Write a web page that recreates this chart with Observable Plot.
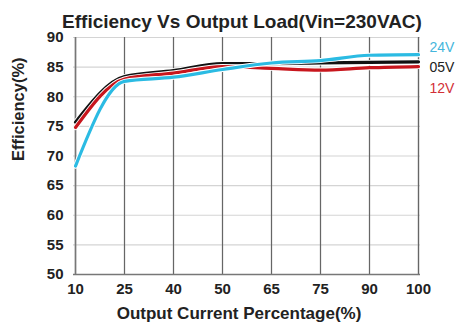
<!DOCTYPE html>
<html>
<head>
<meta charset="utf-8">
<script src="https://cdn.jsdelivr.net/npm/d3@7"></script>
<script src="https://cdn.jsdelivr.net/npm/@observablehq/plot@0.6"></script>
<style>
  html, body { margin: 0; padding: 0; background: #fff; overflow: hidden; }
</style>
</head>
<body>
<div id="chart"></div>
<script>
const loads = ["10", "25", "40", "50", "65", "75", "90", "100"];
const eff05 = [75.7, 83.4, 84.4, 85.6, 85.6, 85.7, 85.8, 85.9];
const eff12 = [74.8, 83.0, 84.0, 85.1, 84.8, 84.5, 84.9, 85.1];
const eff24 = [68.3, 82.6, 83.3, 84.6, 85.7, 86.1, 87.0, 87.1];
const yTicks = [50, 55, 60, 65, 70, 75, 80, 85, 90];
const seriesNames = ["24V", "05V", "12V"];
const seriesColors = ["#2bbbe3", "#111111", "#c8161d"];
const labelColors = ["#45b6dc", "#222222", "#d22f36"];
const title = "Efficiency Vs Output Load(Vin=230VAC)";
const xLabel = "Output Current Percentage(%)";
const yLabel = "Efficiency(%)";

const valuesBySeries = { "24V": eff24, "05V": eff05, "12V": eff12 };
const drawOrder = ["05V", "12V", "24V"];
const rows = drawOrder.flatMap(s => loads.map((l, i) => ({ series: s, load: l, eff: valuesBySeries[s][i] })));
const colorOf = Object.fromEntries(seriesNames.map((s, i) => [s, seriesColors[i]]));

const lineMarks = drawOrder.flatMap(s => {
  const d = rows.filter(r => r.series === s);
  return [
    Plot.line(d, { x: "load", y: "eff", stroke: "white", strokeWidth: 5, curve: "monotone-x" }),
    Plot.line(d, { x: "load", y: "eff", stroke: colorOf[s], strokeWidth: 3.2, curve: "monotone-x" })
  ];
});

const legendMarks = seriesNames.map((s, i) =>
  Plot.text([s], { frameAnchor: "top-right", lineAnchor: "middle", textAnchor: "start", dx: 9, dy: 10 + 20.5 * i, fontSize: 14, fontWeight: "normal", fill: labelColors[i] })
);

const chart = Plot.plot({
  width: 455,
  height: 322,
  marginLeft: 73,
  marginRight: 35,
  marginTop: 37,
  marginBottom: 48,
  style: { fontFamily: "Liberation Sans, Arial, sans-serif", fontSize: "15px", fontWeight: "bold", color: "#222", background: "white" },
  x: { type: "point", domain: loads, padding: 0, label: null, tickSize: 0, tickPadding: 9 },
  y: { domain: [50, 90], ticks: yTicks, label: null, tickSize: 0, tickPadding: 10 },
  marks: [
    Plot.ruleX(loads, { stroke: "#d4d4d4", strokeWidth: 1.2 }),
    Plot.ruleY(yTicks, { stroke: "#d4d4d4", strokeWidth: 1.2 }),
    Plot.ruleX([loads[loads.length - 1]], { stroke: "#b0b0b0", strokeWidth: 1.3 }),
    Plot.tickX(loads, { x: d => d, y1: 50, y2: 50.9, stroke: "#666", strokeWidth: 1.2 }),
    Plot.ruleX([loads[0]], { stroke: "#777", strokeWidth: 1.5 }),
    Plot.ruleY([50], { stroke: "#777", strokeWidth: 1.5 }),
    ...lineMarks,
    Plot.text([title], { frameAnchor: "top", lineAnchor: "middle", dy: -16, dx: -5, fontSize: 19, fontWeight: "bold", fill: "#222" }),
    Plot.text([xLabel], { frameAnchor: "bottom", lineAnchor: "middle", dy: 39, dx: -8, fontSize: 17, fontWeight: "bold", fill: "#222" }),
    Plot.text([yLabel], { frameAnchor: "left", dx: -55, dy: 5, rotate: -90, fontSize: 16.5, fontWeight: "bold", fill: "#222" }),
    ...legendMarks
  ]
});
document.getElementById("chart").appendChild(chart);
</script>
</body>
</html>
